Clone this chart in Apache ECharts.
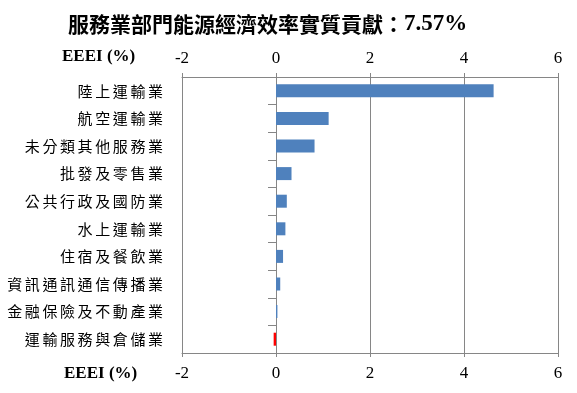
<!DOCTYPE html>
<html>
<head>
<meta charset="utf-8">
<script src="https://cdn.jsdelivr.net/npm/echarts@6/dist/echarts.min.js"></script>
<style>html,body{margin:0;padding:0;background:#fff;}#c{width:577px;height:393px;}</style>
</head>
<body>
<div id="c"></div>
<script>
var titleMain = '服務業部門能源經濟效率實質貢獻：';
var titleValue = '7.57%';
var axisName = 'EEEI (%)';
var categories = ['陸上運輸業','航空運輸業','未分類其他服務業','批發及零售業','公共行政及國防業','水上運輸業','住宿及餐飲業','資訊通訊通信傳播業','金融保險及不動產業','運輸服務與倉儲業'];
var values = [4.63, 1.12, 0.82, 0.33, 0.23, 0.20, 0.15, 0.09, 0.03, -0.05];
var xTicks = {min: -2, max: 6, interval: 2};

var chart = echarts.init(document.getElementById('c'), null, {renderer: 'canvas'});
var gray = '#868686';
var serif = '"Liberation Serif", "DejaVu Serif", serif';
var cjk = '"Noto Sans CJK TC", "Noto Sans CJK SC", sans-serif';
function xAxisCfg(pos, margin) {
  return {
    type: 'value', position: pos, min: xTicks.min, max: xTicks.max, interval: xTicks.interval,
    axisLine: {show: true, onZero: false, lineStyle: {color: gray, width: 1}},
    axisTick: {show: true, inside: false, length: 4, lineStyle: {color: gray}},
    splitLine: {show: pos === 'bottom', lineStyle: {color: gray, width: 1}},
    axisLabel: {color: '#000', fontFamily: serif, fontSize: 17, margin: margin}
  };
}
function spaced(s) {
  return s.split('').map(function (ch) { return '{c|' + ch + '}'; }).join('');
}
chart.setOption({
  animation: false,
  backgroundColor: '#fff',
  title: {text: '{a|' + titleMain + '}{b|' + titleValue + '}', left: 63, top: 8,
    textStyle: {rich: {
      a: {fontFamily: cjk, fontWeight: 'bold', fontSize: 21, color: '#000'},
      b: {fontFamily: serif, fontWeight: 'bold', fontSize: 23, color: '#000'}
    }}},
  grid: {left: 182, right: 19, top: 77, bottom: 40, containLabel: false},
  xAxis: [xAxisCfg('top', 10), xAxisCfg('bottom', 12)],
  yAxis: [{
    type: 'category', data: categories, inverse: true,
    axisLine: {show: false}, axisTick: {show: false},
    axisLabel: {margin: 19, formatter: spaced,
      rich: {c: {color: '#000', fontFamily: cjk, fontSize: 15, padding: [0, 0, 0, 2.6]}}}
  }, {
    type: 'category', data: categories, inverse: true, position: 'left',
    axisLine: {show: true, onZero: true, onZeroAxisIndex: 1, lineStyle: {color: gray}},
    axisTick: {show: true, length: 8, lineStyle: {color: gray}},
    axisLabel: {show: false}
  }],
  series: [{
    type: 'bar', xAxisIndex: 1, yAxisIndex: 0, data: values,
    barWidth: 13,
    itemStyle: {color: function (p) { return p.value < 0 ? '#FF0000' : '#4F81BD'; }}
  }],
  graphic: [
    {type: 'text', left: 62, top: 48, style: {text: axisName, font: 'bold 17px ' + serif, fill: '#000'}},
    {type: 'text', left: 64, top: 365, style: {text: axisName, font: 'bold 17px ' + serif, fill: '#000'}}
  ]
});
</script>
</body>
</html>
